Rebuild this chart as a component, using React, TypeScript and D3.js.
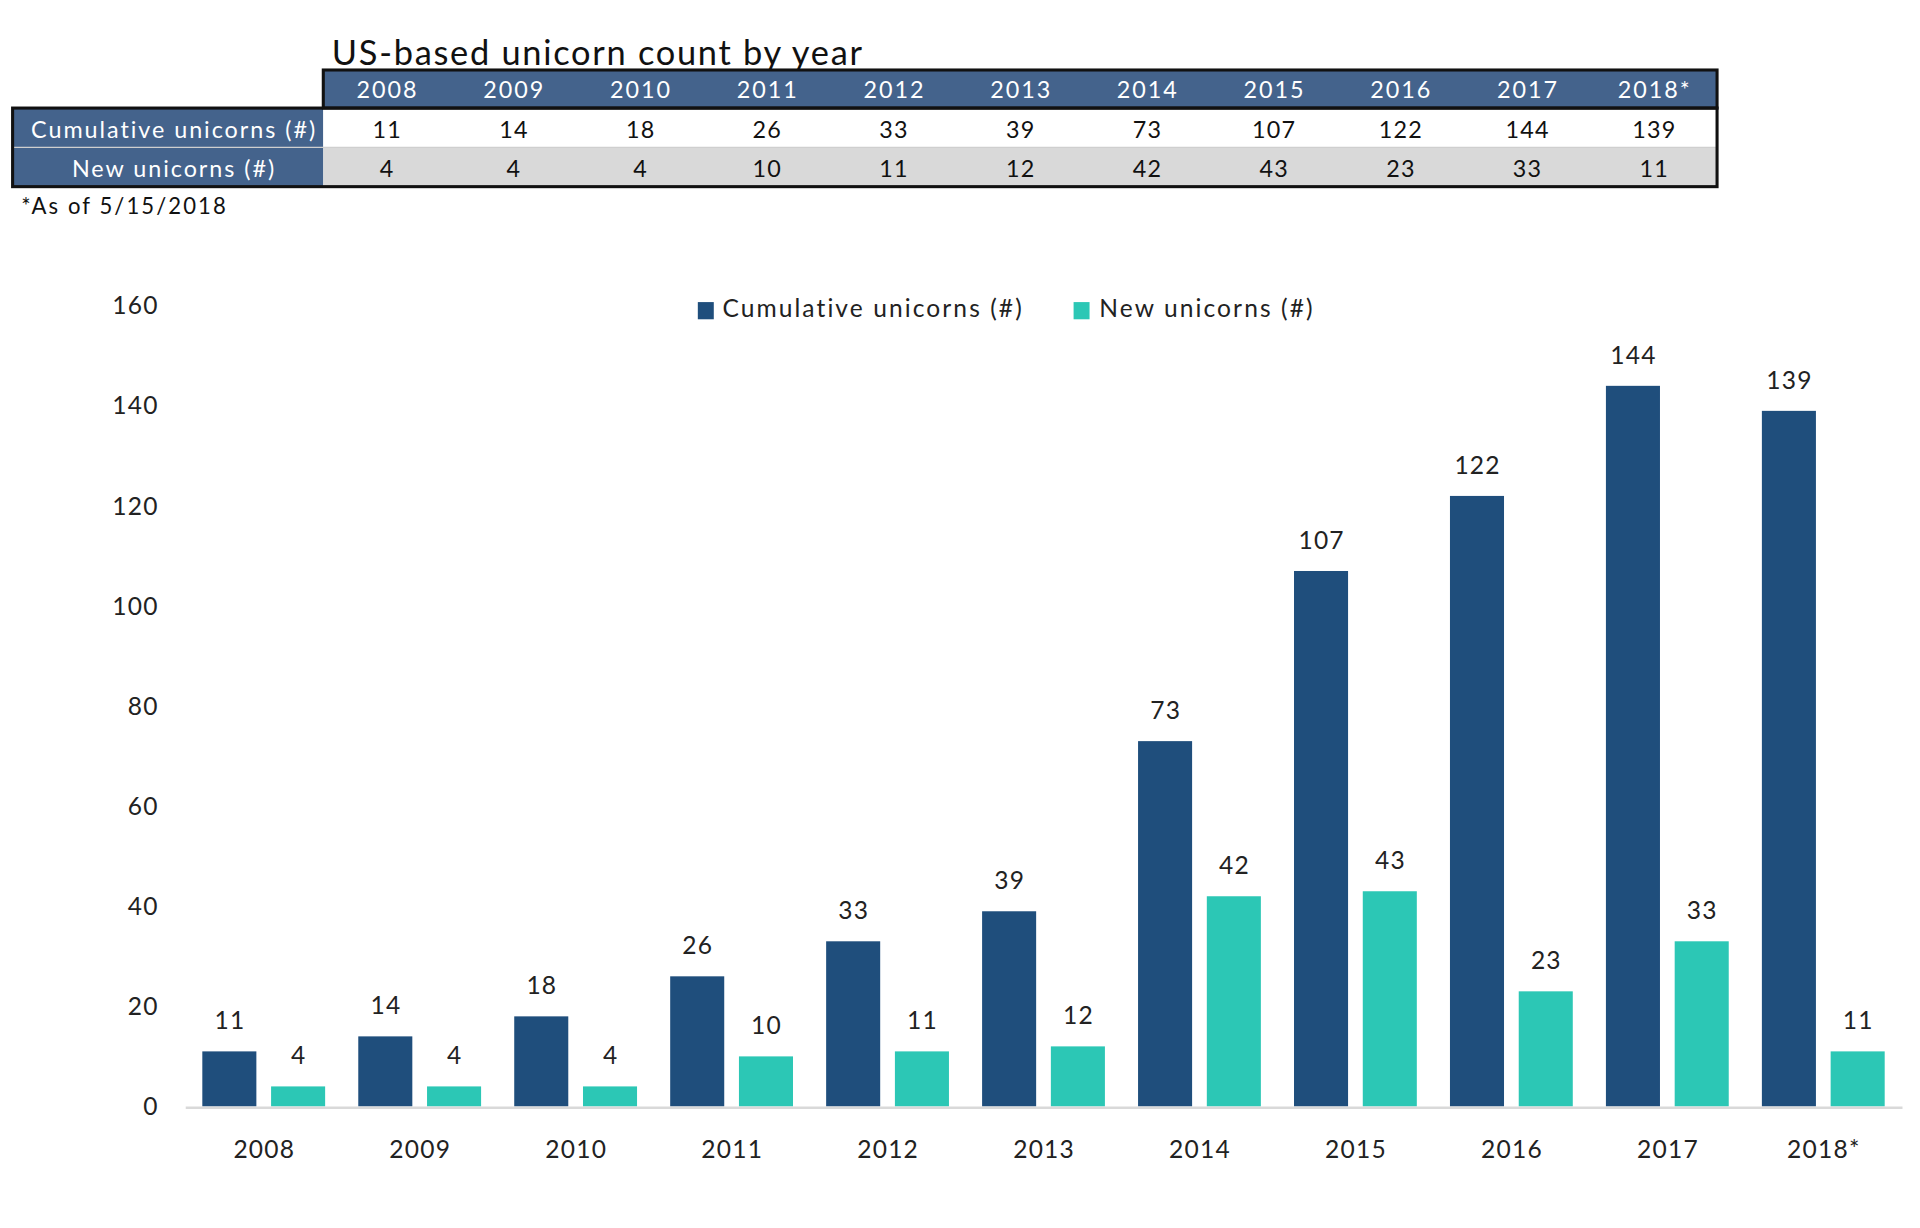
import React from "react";
import * as d3 from "d3";

const years = ["2008", "2009", "2010", "2011", "2012", "2013", "2014", "2015", "2016", "2017", "2018*"];
const cumulative = [11, 14, 18, 26, 33, 39, 73, 107, 122, 144, 139];
const newUnicorns = [4, 4, 4, 10, 11, 12, 42, 43, 23, 33, 11];
const yTicks = [0, 20, 40, 60, 80, 100, 120, 140, 160];
const seriesNames = ["Cumulative unicorns (#)", "New unicorns (#)"];
const seriesColors = ["#1F4E7C", "#2CC7B5"];
const titleText = "US-based unicorn count by year";
const footnote = "*As of 5/15/2018";

const FONT = "Lato, 'Open Sans', sans-serif";

export default function App() {
  const W = 1563;
  const H = 1000;
  const x = d3.scaleBand<string>().domain(years).range([151, 1548]).paddingInner(0).paddingOuter(0);
  const xs = d3
    .scaleBand<string>()
    .domain(["cum", "new"])
    .range([0, x.bandwidth()])
    .paddingInner(0.214)
    .paddingOuter(0.241);
  const y = d3.scaleLinear().domain([0, 160]).range([901, 249]);

  // table geometry
  const tX0 = 10;
  const tXL = 263;
  const tX1 = 1398;
  const col = d3.scaleBand<string>().domain(years).range([tXL, tX1]);
  const rowY = [57, 88, 120, 152];
  const headBlue = "#44638C";

  const series = [cumulative, newUnicorns];
  const keys = ["cum", "new"];

  return (
    <svg width={1920} height={1228} viewBox={`0 0 ${W} ${H}`} style={{ display: "block", margin: -8 }} fontFamily={FONT}>
      <rect x={0} y={0} width={W} height={H} fill="#fff" />
      {/* Title */}
      <text x={270} y={53} fontSize={28} letterSpacing={1.4} fill="#111">{titleText}</text>

      {/* Table */}
      <rect x={tXL} y={rowY[0]} width={tX1 - tXL} height={rowY[1] - rowY[0]} fill={headBlue} />
      <rect x={tX0} y={rowY[1]} width={tXL - tX0} height={rowY[3] - rowY[1]} fill={headBlue} />
      <rect x={tXL} y={rowY[1]} width={tX1 - tXL} height={rowY[2] - rowY[1]} fill="#fff" />
      <rect x={tXL} y={rowY[2]} width={tX1 - tXL} height={rowY[3] - rowY[2]} fill="#D9D9D9" />
      <line x1={tX0} x2={tX1} y1={rowY[2]} y2={rowY[2]} stroke="#cfcfcf" strokeWidth={1} />
      <rect x={tXL} y={rowY[0]} width={tX1 - tXL} height={rowY[1] - rowY[0]} fill="none" stroke="#111" strokeWidth={2.5} />
      <rect x={tX0} y={rowY[1]} width={tX1 - tX0} height={rowY[3] - rowY[1]} fill="none" stroke="#111" strokeWidth={2.5} />
      {years.map((yr, i) => (
        <g key={yr}>
          <text x={col(yr)! + col.bandwidth() / 2 + 0.8} y={80} fontSize={19} letterSpacing={1.6} fill="#fff" textAnchor="middle">{yr}</text>
          <text x={col(yr)! + col.bandwidth() / 2 + 0.5} y={112} fontSize={19} letterSpacing={1} fill="#111" textAnchor="middle">{cumulative[i]}</text>
          <text x={col(yr)! + col.bandwidth() / 2 + 0.5} y={144} fontSize={19} letterSpacing={1} fill="#111" textAnchor="middle">{newUnicorns[i]}</text>
        </g>
      ))}
      <text x={(tX0 + tXL) / 2 + 5} y={112} fontSize={19} letterSpacing={1.6} fill="#fff" textAnchor="middle">{seriesNames[0]}</text>
      <text x={(tX0 + tXL) / 2 + 5} y={144} fontSize={19} letterSpacing={1.6} fill="#fff" textAnchor="middle">{seriesNames[1]}</text>
      <text x={17} y={174} fontSize={18} letterSpacing={1.7} fill="#111">{footnote}</text>

      {/* Legend */}
      <rect x={568} y={246} width={13} height={14} fill={seriesColors[0]} />
      <text x={588} y={258} fontSize={20} letterSpacing={1.7} fill="#222">{seriesNames[0]}</text>
      <rect x={874} y={246} width={13} height={14} fill={seriesColors[1]} />
      <text x={895} y={258} fontSize={20} letterSpacing={1.7} fill="#222">{seriesNames[1]}</text>

      {/* Y ticks */}
      {yTicks.map((t) => (
        <text key={t} x={129} y={y(t) + 7} fontSize={20} letterSpacing={1} fill="#222" textAnchor="end">{t}</text>
      ))}

      {/* Bars */}
      {years.map((yr, i) => (
        <g key={yr} transform={`translate(${x(yr)},0)`}>
          {series.map((s, k) => (
            <g key={k}>
              <rect x={xs(keys[k])!} y={y(s[i])} width={xs.bandwidth()} height={y(0) - y(s[i])} fill={seriesColors[k]} />
              <text x={xs(keys[k])! + xs.bandwidth() / 2 + 0.5} y={y(s[i]) - 18} fontSize={20} letterSpacing={1} fill="#222" textAnchor="middle">{s[i]}</text>
            </g>
          ))}
          <text x={x.bandwidth() / 2 + 0.5} y={943} fontSize={20} letterSpacing={1} fill="#222" textAnchor="middle">{yr}</text>
        </g>
      ))}
      {/* X axis line */}
      <line x1={151} x2={1549} y1={902} y2={902} stroke="#D9D9D9" strokeWidth={2} />
    </svg>
  );
}
